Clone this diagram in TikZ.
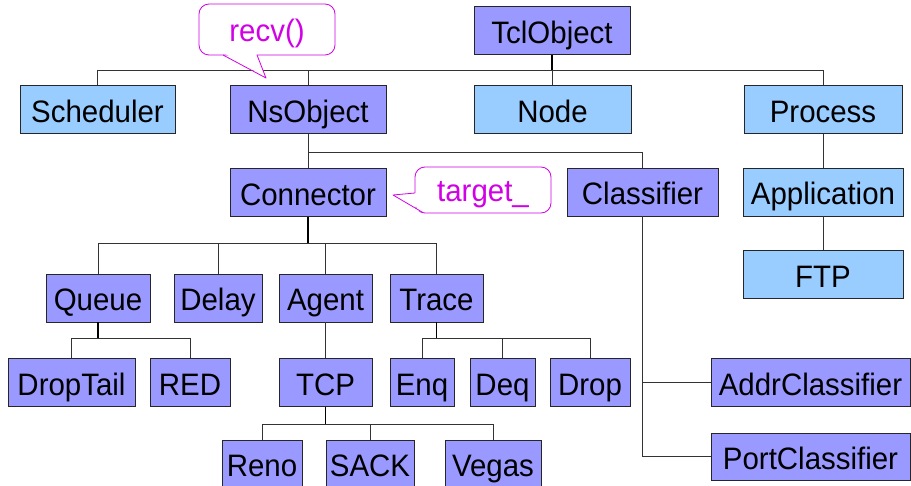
\documentclass[tikz,border=0pt]{standalone}
\usepackage{fontspec}
\setmainfont{Liberation Sans}[FakeStretch=0.95]
\definecolor{purp}{HTML}{9999FF}
\definecolor{lblue}{HTML}{99CCFF}
\definecolor{mag}{RGB}{210,0,230}
\begin{document}
\begin{tikzpicture}[x=1pt,y=-1pt,
  cls/.style={draw=black!85, line width=0.8pt, fill=purp, inner sep=0pt, minimum height=48pt, text height=29pt, text depth=3pt, font=\fontsize{31}{32}\selectfont},
  blu/.style={cls, fill=lblue},
  conn/.style={draw=black!80, line width=0.9pt},
  stem/.style={draw=black, line width=1.4pt},
  callout/.style={draw=mag, line width=0.8pt, fill=white, rounded corners=10pt, inner sep=0pt, text height=28pt, text depth=4pt, text=mag, font=\fontsize{31}{32}\selectfont}]
\useasboundingbox (0,0) rectangle (911,486);
\fill[white] (0,0) rectangle (911,486);

% nodes
\node[cls, minimum width=156] (tcl) at (552,30.5) {TclObject};
\node[blu, minimum width=155] (sched) at (97.5,109.5) {Scheduler};
\node[cls, minimum width=156] (ns) at (308,109.5) {NsObject};
\node[blu, minimum width=157] (nd) at (552.5,109.5) {Node};
\node[blu, minimum width=158] (proc) at (823,109.5) {Process};
\node[cls, minimum width=156] (connr) at (308,192.5) {Connector};
\node[cls, minimum width=151] (clsf) at (642.5,192) {Classifier};
\node[blu, minimum width=160] (app) at (823,192) {Application};
\node[blu, minimum width=160] (ftp) at (823,274.5) {FTP};
\node[cls, minimum width=104] (queue) at (98,298) {Queue};
\node[cls, minimum width=88] (delay) at (218,298) {Delay};
\node[cls, minimum width=93] (agent) at (325.5,298) {Agent};
\node[cls, minimum width=93] (trace) at (436.5,298) {Trace};
\node[cls, minimum width=127] (droptail) at (71.5,382.5) {DropTail};
\node[cls, minimum width=80] (red) at (190,382.5) {RED};
\node[cls, minimum width=93] (tcp) at (325.5,382.5) {TCP};
\node[cls, minimum width=64] (enq) at (422,382.5) {Enq};
\node[cls, minimum width=65] (deq) at (502.5,382.5) {Deq};
\node[cls, minimum width=80] (drop) at (590,382.5) {Drop};
\node[cls, minimum width=199] (addr) at (810.5,382.5) {AddrClassifier};
\node[cls, minimum width=199, minimum height=47] (port) at (810.5,456.5) {PortClassifier};
\node[cls, minimum width=80, minimum height=46] (reno) at (262,463) {Reno};
\node[cls, minimum width=88, minimum height=46] (sack) at (370,463) {SACK};
\node[cls, minimum width=96, minimum height=46] (vegas) at (493,463) {Vegas};

% bus levels
\coordinate (b0) at (0,70);
\coordinate (b1) at (0,152);
\coordinate (b2) at (0,243);
\coordinate (b3) at (0,338);
\coordinate (b4) at (0,424);

% connectors
\foreach \c in {sched,ns,nd,proc}
  \path[conn] (tcl.south |- b0) -| (\c.north);
\path[stem] (tcl.south) -- (tcl.south |- b0);
\path[conn] (ns.south) |- (clsf.north |- b1) -- (clsf.north);
\path[conn] (ns.south |- b1) -- (connr.north);
\foreach \c in {queue,delay,agent,trace}
  \path[conn] (connr.south |- b2) -| (\c.north);
\path[stem] (connr.south) -- (connr.south |- b2);
\foreach \c in {droptail,red}
  \path[conn] (queue.south |- b3) -| (\c.north);
\path[stem] (queue.south) -- (queue.south |- b3);
\path[conn] (agent.south) -- (tcp.north);
\foreach \c in {enq,deq,drop}
  \path[conn] (trace.south |- b3) -| (\c.north);
\path[stem] (trace.south) -- (trace.south |- b3);
\foreach \c in {reno,sack,vegas}
  \path[conn] (tcp.south |- b4) -| (\c.north);
\path[stem] (tcp.south) -- (tcp.south |- b4);
\path[conn] (clsf.south) |- (port.west);
\path[conn] (clsf.south |- addr.west) -- (addr.west);
\path[conn] (proc.south) -- (app.north);
\path[conn] (app.south) -- (ftp.north);

% callouts
\node[callout, minimum width=136, minimum height=51] (recv) at (267,29.5) {recv()};
\coordinate (rtip) at (266,78);
\fill[white] (224,53) -- (rtip) -- (256,53) -- cycle;
\draw[draw=mag, line width=0.8pt, line join=round] (223,55) -- (rtip) -- (257,55);

\node[callout, minimum width=136, minimum height=46] (tgt) at (483,190) {target\_};
\coordinate (ttip) at (393,195);
\fill[white] (416.5,193) -- (ttip) -- (424,211.5) -- (416.5,211) -- cycle;
\draw[draw=mag, line width=0.8pt, line join=round] (415,193) -- (ttip) -- (423,212.6);
\end{tikzpicture}
\end{document}
